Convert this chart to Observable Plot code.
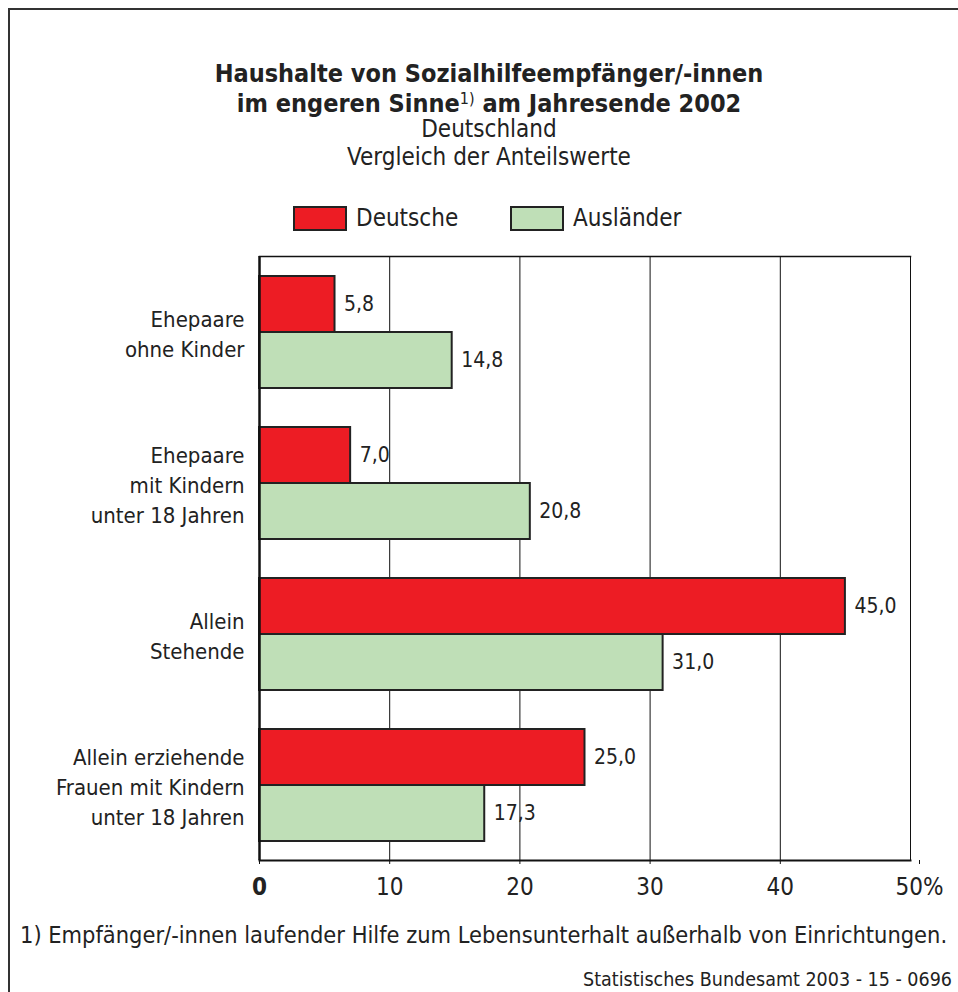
<!DOCTYPE html>
<html><head><meta charset="utf-8">
<script src="https://cdn.jsdelivr.net/npm/d3@7"></script>
<script src="https://cdn.jsdelivr.net/npm/@observablehq/plot@0.6"></script>
<style>
body{margin:0;background:#fff;}
#page{position:relative;width:958px;height:992px;overflow:hidden;font-family:"DejaVu Sans Condensed","DejaVu Sans",sans-serif;color:#222;background:#fff;}
#frame{position:absolute;left:8px;top:8px;width:1000px;height:1000px;border:2px solid #333;box-sizing:border-box;}
.t{position:absolute;left:20px;width:938px;text-align:center;white-space:nowrap;}
.title{font-weight:bold;font-size:25px;line-height:28px;}
.sub{font-size:24px;line-height:28px;}
sup{font-size:16px;line-height:0;font-weight:normal;vertical-align:baseline;position:relative;top:-8px;}
.sw{position:absolute;top:206px;width:54px;height:25px;border:2px solid #222;box-sizing:border-box;}
.lt{position:absolute;top:203px;line-height:30px;font-size:24px;}
#chart{position:absolute;left:0;top:240px;}
.foot{position:absolute;left:20px;top:920px;line-height:30px;font-size:23.4px;white-space:nowrap;}
.src{position:absolute;left:583px;top:967px;line-height:26px;font-size:19.5px;white-space:nowrap;}
</style></head>
<body>
<div id="page">
  <div id="frame"></div>
  <div class="t title" style="top:60px">Haushalte von Sozialhilfeempfänger/-innen</div>
  <div class="t title" style="top:90px">im engeren Sinne<sup>1)</sup> am Jahresende 2002</div>
  <div class="t sub" style="top:115px">Deutschland</div>
  <div class="t sub" style="top:143px">Vergleich der Anteilswerte</div>
  <div id="legend"></div>
  <div id="chart"></div>
  <div class="foot" id="foot"></div>
  <div class="src" id="src"></div>
</div>
<script>
const groups = [
  "Ehepaare\nohne Kinder",
  "Ehepaare\nmit Kindern\nunter 18 Jahren",
  "Allein\nStehende",
  "Allein erziehende\nFrauen mit Kindern\nunter 18 Jahren"
];
const series = ["Deutsche", "Ausländer"];
const deutsche = [5.8, 7.0, 45.0, 25.0];
const auslaender = [14.8, 20.8, 31.0, 17.3];
const xTicks = [0, 10, 20, 30, 40, 50];
const colors = ["#ED1C24", "#BFDFB7"];
const footnote = "1) Empfänger/-innen laufender Hilfe zum Lebensunterhalt außerhalb von Einrichtungen.";
const source = "Statistisches Bundesamt 2003 - 15 - 0696";

const rows = groups.flatMap((g, i) => [
  {group: g, series: series[0], value: deutsche[i]},
  {group: g, series: series[1], value: auslaender[i]}
]);
const fmt = v => v.toFixed(1).replace(".", ",");
const font = "'DejaVu Sans Condensed', 'DejaVu Sans', sans-serif";

// legend
const legend = document.getElementById("legend");
const legendX = [293, 510];
series.forEach((s, i) => {
  const sw = document.createElement("div");
  sw.className = "sw";
  sw.style.left = legendX[i] + "px";
  sw.style.background = colors[i];
  legend.appendChild(sw);
  const t = document.createElement("div");
  t.className = "lt";
  t.style.left = (legendX[i] + 63) + "px";
  t.textContent = s;
  legend.appendChild(t);
});
document.getElementById("foot").textContent = footnote;
document.getElementById("src").textContent = source;

const chart = Plot.plot({
  width: 958,
  height: 665,
  marginLeft: 259,
  marginRight: 48,
  marginTop: 16,
  marginBottom: 45,
  style: {fontFamily: font, fontSize: "22px", color: "#222", background: "transparent", overflow: "visible"},
  x: {domain: [0, 50]},
  y: {domain: series, axis: null, paddingInner: 0, paddingOuter: 0.336},
  fy: {domain: groups, padding: 0, axis: null},
  color: {domain: series, range: colors},
  marks: [
    Plot.gridX(xTicks, {stroke: "#111", strokeOpacity: 1, strokeWidth: 1}),
    Plot.barX(rows, {fy: "group", y: "series", x: "value", fill: "series", stroke: "#222", strokeWidth: 2}),
    Plot.text(rows, {fy: "group", y: "series", x: "value", text: d => fmt(d.value), dx: 9, textAnchor: "start", fontSize: 21, fill: "#222"}),
    Plot.text(groups, {fy: d => d, text: d => d, frameAnchor: "left", textAnchor: "end", dx: -15, lineHeight: 1.37, fontSize: 22, fill: "#222"}),
    Plot.ruleX([0], {stroke: "#111", strokeWidth: 2.5}),
    Plot.frame({anchor: "top", facetAnchor: "top", stroke: "#111", strokeWidth: 1.5}),
    Plot.frame({anchor: "bottom", facetAnchor: "bottom", stroke: "#111", strokeWidth: 2}),
    Plot.axisX(xTicks.filter(d => d > 0 && d < 50), {tickSize: 4, tickPadding: 13, fontSize: 24, label: null, stroke: "#111", fill: "#222"}),
    Plot.axisX([0], {tickSize: 4, tickPadding: 13, fontSize: 24, fontWeight: "bold", label: null, stroke: "#111", fill: "#222"}),
    Plot.axisX([50], {tickFormat: d => d + "%", tickSize: 4, tickPadding: 13, fontSize: 24, dx: 9, label: null, stroke: "#111", fill: "#222"})
  ]
});
document.getElementById("chart").appendChild(chart);
</script>
</body></html>
